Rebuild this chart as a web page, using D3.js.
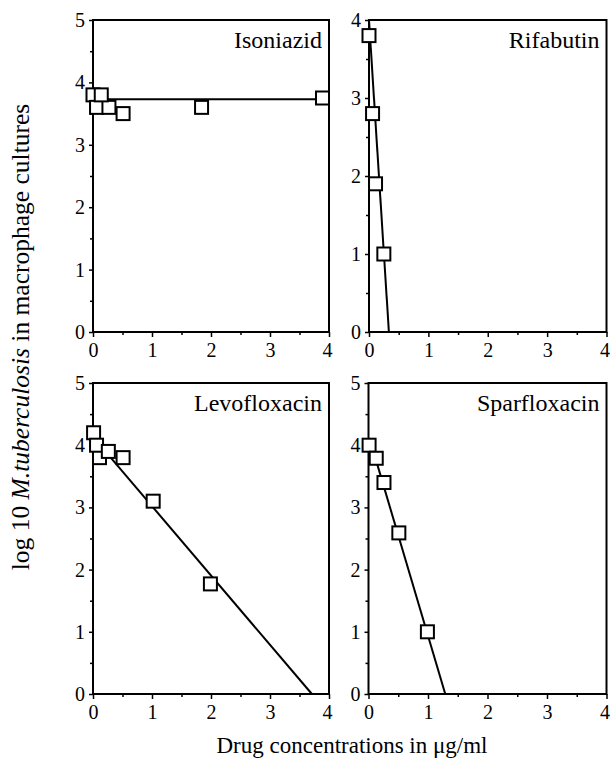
<!DOCTYPE html>
<html><head><meta charset="utf-8">
<script src="https://cdn.jsdelivr.net/npm/d3@7"></script>
<style>
html,body{margin:0;padding:0;background:#fff;}
svg{display:block;}
svg text{font-family:"Liberation Serif","Times New Roman","DejaVu Serif",serif !important;fill:#000;}
</style></head>
<body><div id="chart"></div>
<script>
// ---- data ----
const panelNames = ["Isoniazid", "Rifabutin", "Levofloxacin", "Sparfloxacin"];
const yMaxes = [5, 4, 5, 5];
const xTicks = [0, 1, 2, 3, 4];
const yTicks5 = [0, 1, 2, 3, 4, 5];
const yTicks4 = [0, 1, 2, 3, 4];

const isoniazidX = [0, 0.06, 0.27, 0.14, 0.51, 1.84, 3.89];
const isoniazidY = [3.8, 3.6, 3.6, 3.8, 3.5, 3.6, 3.75];
const isoniazidFitX = [0.25, 4.0];
const isoniazidFitY = [3.73, 3.73];

const rifabutinX = [0, 0.06, 0.11, 0.25];
const rifabutinY = [3.8, 2.8, 1.9, 1.0];
const rifabutinFitX = [0.0, 0.335];
const rifabutinFitY = [4.0, 0];

const levofloxacinX = [0.11, 0.01, 0.06, 0.26, 0.51, 1.02, 1.99];
const levofloxacinY = [3.8, 4.2, 4.0, 3.9, 3.8, 3.1, 1.77];
const levofloxacinFitX = [0.3, 3.71];
const levofloxacinFitY = [3.8, 0];

const sparfloxacinX = [0.01, 0.13, 0.26, 0.51, 0.99];
const sparfloxacinY = [4.0, 3.79, 3.4, 2.59, 1.0];
const sparfloxacinFitX = [0.12, 1.29];
const sparfloxacinFitY = [3.78, 0];

const yLabelA = "log 10 ";
const yLabelB = "M.tuberculosis";
const yLabelC = " in macrophage cultures";
const xLabel = "Drug concentrations in \u03bcg/ml";

// ---- layout ----
const W = 610, H = 763;
const SERIF = '"Liberation Serif","Times New Roman","DejaVu Serif",serif';
const svg = d3.select("#chart").append("svg").attr("width", W).attr("height", H)
  .style("font-family", SERIF);

const boxes = [
  {x0: 93, x1: 329, y0: 20, y1: 332},
  {x0: 369, x1: 606.5, y0: 20, y1: 332},
  {x0: 93, x1: 329, y0: 383, y1: 694},
  {x0: 368.5, x1: 606.5, y0: 383, y1: 694}
];
const seriesX = [isoniazidX, rifabutinX, levofloxacinX, sparfloxacinX];
const seriesY = [isoniazidY, rifabutinY, levofloxacinY, sparfloxacinY];
const fitX = [isoniazidFitX, rifabutinFitX, levofloxacinFitX, sparfloxacinFitX];
const fitY = [isoniazidFitY, rifabutinFitY, levofloxacinFitY, sparfloxacinFitY];

panelNames.forEach((name, i) => {
  const b = boxes[i];
  const x = d3.scaleLinear().domain([0, 4]).range([b.x0, b.x1]);
  const y = d3.scaleLinear().domain([0, yMaxes[i]]).range([b.y1, b.y0]);
  const g = svg.append("g");
  const yt = yMaxes[i] === 4 ? yTicks4 : yTicks5;
  const yMinor = d3.range(0.5, yMaxes[i], 1);
  const xMinor = d3.range(0.5, 4, 1);

  // minor ticks
  g.append("g").attr("transform", `translate(0,${b.y1})`)
    .call(d3.axisBottom(x).tickValues(xMinor).tickSize(3).tickFormat(""))
    .call(s => s.select(".domain").remove())
    .call(s => s.selectAll("line").attr("stroke-width", 1.5));
  g.append("g").attr("transform", `translate(${b.x0},0)`)
    .call(d3.axisLeft(y).tickValues(yMinor).tickSize(3).tickFormat(""))
    .call(s => s.select(".domain").remove())
    .call(s => s.selectAll("line").attr("stroke-width", 1.5));

  // major ticks
  const xa = g.append("g").attr("transform", `translate(0,${b.y1})`)
    .call(d3.axisBottom(x).tickValues(xTicks).tickSize(5).tickPadding(6).tickFormat(d3.format("d")));
  xa.attr("font-family", null);
  xa.select(".domain").remove();
  xa.selectAll("line").attr("stroke-width", 1.5);
  xa.selectAll("text").attr("font-size", 20).style("font-family", SERIF)
    .attr("dx", d => d === 4 ? -2 : 0);

  const ya = g.append("g").attr("transform", `translate(${b.x0},0)`)
    .call(d3.axisLeft(y).tickValues(yt).tickSize(4).tickPadding(4).tickFormat(d3.format("d")));
  ya.attr("font-family", null);
  ya.select(".domain").remove();
  ya.selectAll("line").attr("stroke-width", 1.5);
  ya.selectAll("text").attr("font-size", 20).style("font-family", SERIF);

  // frame
  g.append("rect").attr("x", b.x0).attr("y", b.y0)
    .attr("width", b.x1 - b.x0).attr("height", b.y1 - b.y0)
    .attr("fill", "none").attr("stroke", "#000").attr("stroke-width", 2);

  // fit line
  const fit = fitX[i].map((v, k) => [v, fitY[i][k]]);
  g.append("path").datum(fit)
    .attr("d", d3.line().x(d => x(d[0])).y(d => y(d[1])))
    .attr("fill", "none").attr("stroke", "#000").attr("stroke-width", 2);

  // squares
  const pts = seriesX[i].map((v, k) => [v, seriesY[i][k]]);
  const s = 13;
  g.selectAll("rect.pt").data(pts).enter().append("rect").attr("class", "pt")
    .attr("x", d => x(d[0]) - s / 2).attr("y", d => y(d[1]) - s / 2)
    .attr("width", s).attr("height", s)
    .attr("fill", "#fff").attr("stroke", "#000").attr("stroke-width", 2);

  // title
  g.append("text").attr("x", b.x1 - 7).attr("y", b.y0 + 28)
    .attr("text-anchor", "end").attr("font-size", 24).style("font-family", SERIF).text(name);
});

// axis labels
const yl = svg.append("text")
  .attr("transform", "translate(29,337) rotate(-90)")
  .attr("text-anchor", "middle").attr("font-size", 25.5).style("font-family", SERIF);
yl.append("tspan").text(yLabelA);
yl.append("tspan").attr("font-style", "italic").text(yLabelB);
yl.append("tspan").text(yLabelC);

svg.append("text").attr("x", 352).attr("y", 753)
  .attr("text-anchor", "middle").attr("font-size", 23).style("font-family", SERIF).text(xLabel);
</script></body></html>
